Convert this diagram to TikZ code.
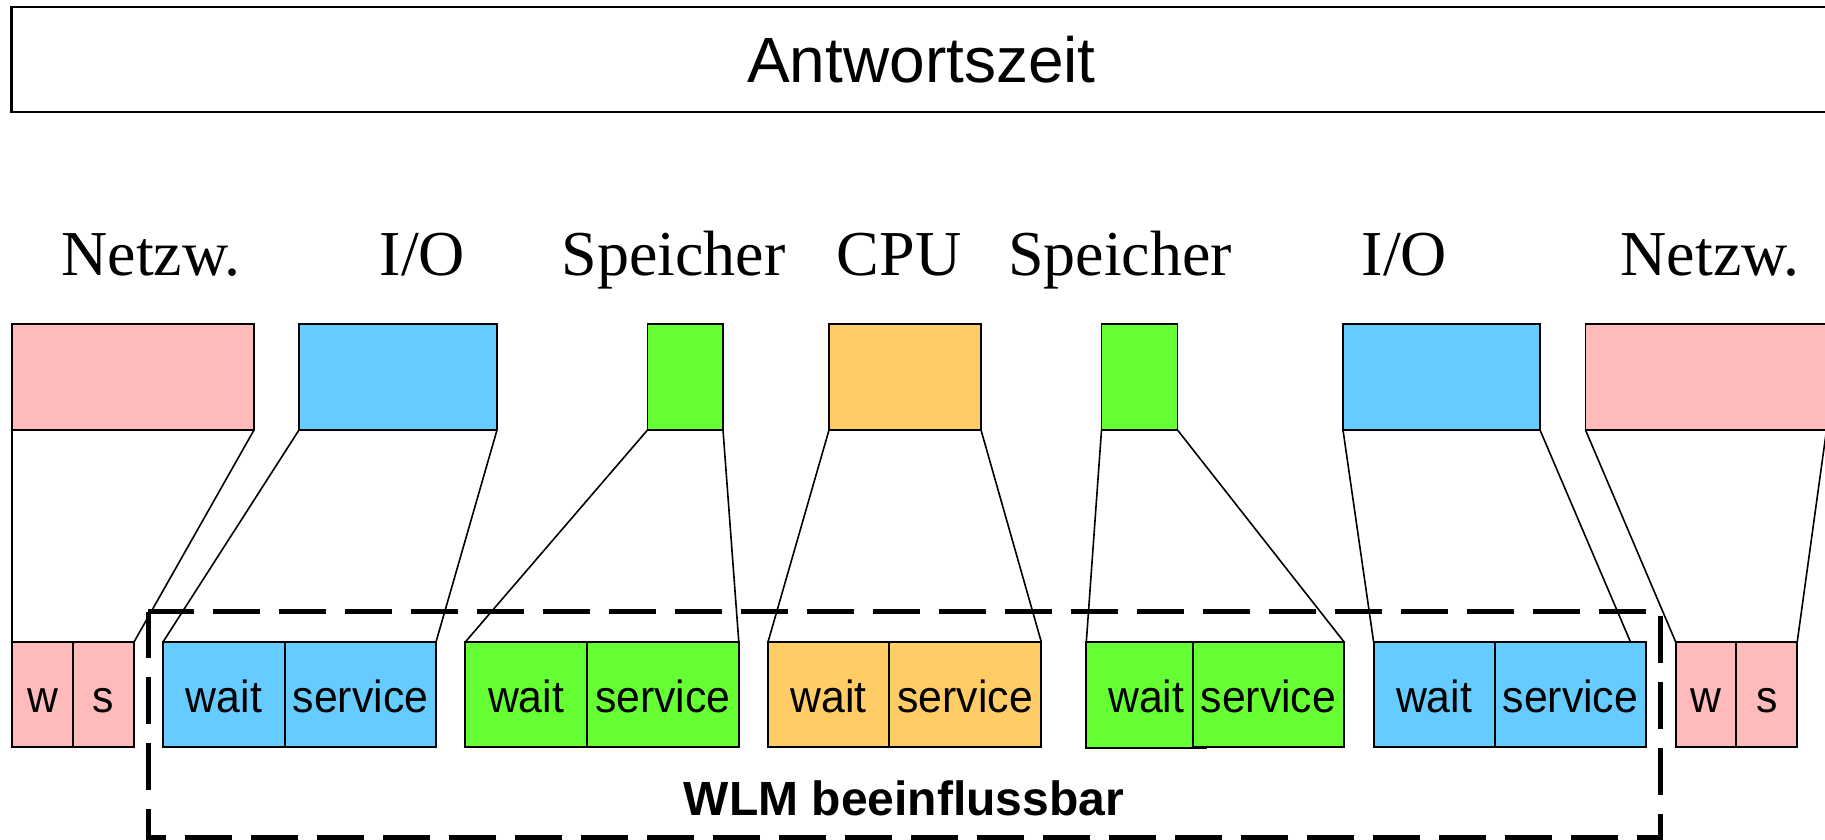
\documentclass[tikz,border=0pt]{standalone}
\usepackage{fontspec}
\setmainfont{Liberation Serif}
\setsansfont{Liberation Sans}
\newfontfamily\boxfont[FakeStretch=0.95]{Liberation Sans}
\usetikzlibrary{calc}
\definecolor{pinkc}{HTML}{FFBBBB}
\definecolor{bluec}{HTML}{66CCFF}
\definecolor{greenc}{HTML}{66FF33}
\definecolor{orangec}{HTML}{FFCC66}
\tikzset{
  topbox/.style={draw=black, line width=1.8pt, rectangle, inner sep=0pt, outer sep=0pt,
    anchor=north west, minimum height=106pt},
  segbox/.style={draw=black, line width=1.8pt, rectangle, inner sep=0pt, outer sep=0pt,
    anchor=north west, minimum height=105pt, text height=35pt, text depth=0pt,
    font=\boxfont\fontsize{45}{50}\selectfont},
  conn/.style={draw=black, line width=1.6pt},
  reslabel/.style={anchor=base, font=\rmfamily\fontsize{64}{70}\selectfont},
  wlmframe/.style={draw=black, line width=5pt, dash pattern=on 47pt off 19pt, dash phase=1.3pt},
}
\begin{document}
\begin{tikzpicture}[x=1pt,y=-1pt]
\useasboundingbox (0,0) rectangle (1825,840);
\clip (0,0) rectangle (1825,840);

% response time bar
\node[draw=black, line width=2.2pt, rectangle, inner sep=0pt, outer sep=0pt, anchor=north west,
  minimum width=1820pt, minimum height=105.6pt, text height=47pt, text depth=0pt,
  font=\sffamily\fontsize{64}{70}\selectfont] (resp) at (11.5,6.7) {Antwortszeit};

% resource labels
\node[reslabel] (lN1) at (151,275) {Netzw.};
\node[reslabel] (lIO1) at (422.5,275) {I/O};
\node[reslabel] (lS1) at (673.5,275) {Speicher};
\node[reslabel] (lC) at (899,275) {CPU};
\node[reslabel] (lS2) at (1120,275) {Speicher};
\node[reslabel] (lIO2) at (1404.5,275) {I/O};
\node[reslabel] (lN2) at (1710,275) {Netzw.};

% top boxes
\node[topbox, fill=pinkc, minimum width=242pt] (tN1) at (12,324) {};
\node[topbox, fill=bluec, minimum width=198pt] (tIO1) at (299,324) {};
\node[topbox, fill=greenc, minimum width=75.5pt] (tS1) at (647.5,324) {};
\node[topbox, fill=orangec, minimum width=152pt] (tC) at (829,324) {};
\node[topbox, fill=greenc, minimum width=76pt] (tS2) at (1101.5,324) {};
\node[topbox, fill=bluec, minimum width=197pt] (tIO2) at (1343,324) {};
\node[topbox, fill=pinkc, minimum width=241pt] (tN2) at (1585.5,324) {};

% bottom boxes
\node[segbox, fill=pinkc, minimum width=61pt] (bN1w) at (12,642) {w};
\node[segbox, fill=pinkc, minimum width=61pt] (bN1s) at (73,642) {s};
\node[segbox, fill=bluec, minimum width=122pt] (bIO1w) at (163,642) {wait};
\node[segbox, fill=bluec, minimum width=151pt] (bIO1s) at (285,642) {service};
\node[segbox, fill=greenc, minimum width=121.5pt] (bS1w) at (465.3,642) {wait};
\node[segbox, fill=greenc, minimum width=152pt] (bS1s) at (586.8,642) {service};
\node[segbox, fill=orangec, minimum width=121.3pt] (bCw) at (768,642) {wait};
\node[segbox, fill=orangec, minimum width=152pt] (bCs) at (889.3,642) {service};
\node[segbox, fill=greenc, minimum width=120pt, minimum height=106pt] (bS2w) at (1086.3,642) {wait};
\node[segbox, fill=greenc, minimum width=151.5pt] (bS2s) at (1192.6,642) {service};
\node[segbox, fill=bluec, minimum width=121pt] (bIO2w) at (1373.6,642) {wait};
\node[segbox, fill=bluec, minimum width=151.5pt] (bIO2s) at (1494.6,642) {service};
\node[segbox, fill=pinkc, minimum width=60.5pt] (bN2w) at (1675.7,642) {w};
\node[segbox, fill=pinkc, minimum width=61pt] (bN2s) at (1736.2,642) {s};

% connectors
\draw[conn] (tN1.south west) -- (bN1w.north west);
\draw[conn] (tN1.south east) -- (bN1s.north east);
\draw[conn] (tIO1.south west) -- (bIO1w.north west);
\draw[conn] (tIO1.south east) -- (bIO1s.north east);
\draw[conn] (tS1.south west) -- (bS1w.north west);
\draw[conn] (tS1.south east) -- (bS1s.north east);
\draw[conn] (tC.south west) -- (bCw.north west);
\draw[conn] (tC.south east) -- (bCs.north east);
\draw[conn] (tS2.south west) -- (bS2w.north west);
\draw[conn] (tS2.south east) -- (bS2s.north east);
\draw[conn] (tIO2.south west) -- (bIO2w.north west);
\draw[conn] (tIO2.south east) -- ($(bIO2s.north east)+(-15.6,0)$);
\draw[conn] (tN2.south west) -- (bN2w.north west);
\draw[conn] (tN2.south east) -- (bN2s.north east);

% WLM frame
\draw[wlmframe] (148,611.7) -- (1660.7,611.7) -- (1660.7,837.3) -- (148,837.3) -- cycle;
\node[anchor=base, font=\sffamily\bfseries\fontsize{48}{54}\selectfont] (wlm) at (904,815) {WLM beeinflussbar};
\end{tikzpicture}
\end{document}
